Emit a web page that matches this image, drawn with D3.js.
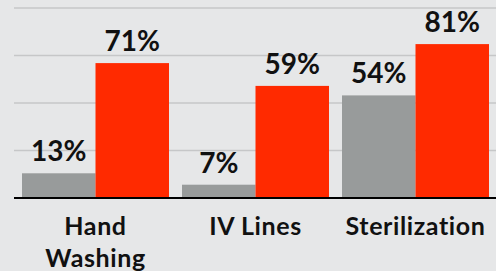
<!DOCTYPE html>
<html>
<head>
<meta charset="utf-8">
<script src="https://cdn.jsdelivr.net/npm/d3@7"></script>
<style>
  html, body { margin: 0; padding: 0; background: #e6e7e8; }
  svg { display: block; }
  text { font-family: Lato, "Open Sans", sans-serif; font-weight: 700; fill: #111; }
</style>
</head>
<body>
<svg id="chart" width="496" height="271"></svg>
<script>
const categories = ["Hand Washing", "IV Lines", "Sterilization"];
const categoryLines = [["Hand", "Washing"], ["IV Lines"], ["Sterilization"]];
const seriesNames = ["before", "after"];
const before = [13, 7, 54];
const after = [71, 59, 81];
const yTicks = [0, 25, 50, 75, 100];

const colors = { before: "#989b9b", after: "#ff2a00" };

const width = 496, height = 271;
const margin = { top: 8, right: 0, bottom: 73, left: 14 };

const svg = d3.select("#chart");

const x = d3.scaleBand()
    .domain(categories)
    .range([15.5, 495.5])
    .paddingInner(13 / 160)
    .paddingOuter(6.5 / 160);

const x1 = d3.scaleBand()
    .domain(seriesNames)
    .range([0, x.bandwidth()])
    .padding(0);

const y = d3.scaleLinear()
    .domain([0, 100])
    .range([height - margin.bottom, margin.top]);

// gridlines
svg.append("g")
    .selectAll("line")
    .data(yTicks.filter(d => d > 0))
    .enter().append("line")
    .attr("x1", margin.left)
    .attr("x2", width)
    .attr("y1", d => y(d))
    .attr("y2", d => y(d))
    .attr("stroke", "#c6c7c8")
    .attr("stroke-width", 1.5);

const rows = categories.map((c, i) => ({
    cat: c,
    values: [
        { key: "before", v: before[i] },
        { key: "after", v: after[i] }
    ]
}));

const group = svg.append("g")
    .selectAll("g")
    .data(rows)
    .enter().append("g")
    .attr("transform", d => `translate(${x(d.cat)},0)`);

group.selectAll("rect")
    .data(d => d.values)
    .enter().append("rect")
    .attr("x", d => x1(d.key))
    .attr("width", x1.bandwidth())
    .attr("y", d => y(d.v))
    .attr("height", d => y(0) - y(d.v))
    .attr("fill", d => colors[d.key]);

group.selectAll("text.val")
    .data(d => d.values)
    .enter().append("text")
    .attr("class", "val")
    .attr("x", d => x1(d.key) + x1.bandwidth() / 2)
    .attr("y", d => y(d.v) - 12)
    .attr("text-anchor", "middle")
    .attr("font-size", "28px")
    .text(d => d.v + "%");

// baseline
svg.append("line")
    .attr("x1", margin.left)
    .attr("x2", width)
    .attr("y1", y(0))
    .attr("y2", y(0))
    .attr("stroke", "#000")
    .attr("stroke-width", 2);

// category labels
const labels = svg.append("g")
    .selectAll("text")
    .data(categories)
    .enter().append("text")
    .attr("x", d => x(d) + x.bandwidth() / 2)
    .attr("y", 235)
    .attr("text-anchor", "middle")
    .attr("font-size", "25px")
    .attr("letter-spacing", "0.6px");

labels.each(function (d, i) {
    const t = d3.select(this);
    categoryLines[i].forEach((line, j) => {
        t.append("tspan")
            .attr("x", x(d) + x.bandwidth() / 2)
            .attr("dy", j === 0 ? 0 : 32)
            .text(line);
    });
});
</script>
</body>
</html>
